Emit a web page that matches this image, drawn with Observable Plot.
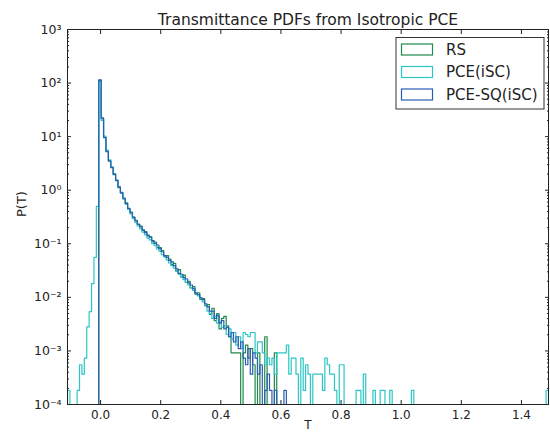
<!DOCTYPE html>
<html><head><meta charset="utf-8">
<script src="https://cdn.jsdelivr.net/npm/d3@7"></script>
<script src="https://cdn.jsdelivr.net/npm/@observablehq/plot@0.6"></script>
<style>html,body{margin:0;padding:0;background:#fff;}</style>
</head><body><div id="chart"></div>
<script>
const title = "Transmittance PDFs from Isotropic PCE";
const seriesNames = ["RS", "PCE(iSC)", "PCE-SQ(iSC)"];
const seriesColors = ["#1f8a4c", "#2cc6c6", "#2a5db5"];
const binStart = -0.11, binWidth = 0.008, binCount = 200;
const headStartBin = 13;
const countUnit = 0.000184;

// RS
const rsHead = [112, 21.5, 9.8, 5.4, 3.5, 2.7, 1.95, 1.55, 1.12, 0.91, 0.69, 0.58, 0.45, 0.39, 0.31, 0.275, 0.228, 0.214, 0.178, 0.168, 0.140, 0.135, 0.110, 0.108, 0.086, 0.085, 0.075, 0.058, 0.060, 0.052, 0.041, 0.043, 0.031, 0.033, 0.024, 0.026, 0.019, 0.020, 0.0150, 0.0158, 0.0115, 0.0122, 0.0092, 0.0095, 0.0070];
const rsTail = [40, 26, 34, 20, 27, 14, 22, 24, 16, 10, 5, 5, 5, 5, 0, 5, 7, 4, 6, 3, 0, 5, 0, 0, 10, 0, 0, 0, 5];

// PCE-SQ(iSC)
const sqHead = [115, 22.4, 9.55, 5.25, 3.55, 2.63, 2.00, 1.51, 1.15, 0.89, 0.71, 0.56, 0.457, 0.38, 0.316, 0.269, 0.234, 0.209, 0.182, 0.162, 0.145, 0.133, 0.115, 0.102, 0.095, 0.081, 0.071, 0.060, 0.056, 0.049, 0.046, 0.039, 0.034, 0.028, 0.027, 0.0234, 0.022, 0.0186, 0.0170, 0.0145, 0.0120, 0.0112, 0.0098, 0.0091, 0.0076];
const sqTail = [36, 30, 30, 22, 25, 18, 20, 14, 15, 10, 12, 8, 10, 6, 8, 4, 3, 6, 2, 5, 4, 2, 3, 0, 1, 2, 1, 0, 1, 0, 0, 0, 1];

// PCE(iSC)
const pceNeg = [0.000184, 0, 0, 0, 0.000184, 0.000552, 0.000368, 0.000736, 0.0028, 0.0054, 0.018, 0.056, 0.5];
const pceHead = [108, 20, 10.2, 5.6, 3.7, 2.7, 2.05, 1.52, 1.16, 0.88, 0.70, 0.55, 0.44, 0.36, 0.295, 0.25, 0.215, 0.19, 0.165, 0.148, 0.128, 0.118, 0.101, 0.092, 0.080, 0.073, 0.063, 0.057, 0.050, 0.044, 0.039, 0.035, 0.031, 0.027, 0.0245, 0.0215, 0.0190, 0.0170, 0.0150, 0.0135, 0.0120, 0.0106, 0.0095, 0.0082, 0.0072];
const pceTail = [30, 27, 22, 24, 18, 19, 15, 16, 11, 14, 9, 12, 7, 10, 6, 12, 11, 10, 12, 12, 5, 8, 8, 5, 3, 4, 3, 4,
                 2, 5, 5, 5, 5, 7, 2, 4, 4, 2, 0, 4, 1, 3, 2, 0, 2, 2, 2, 2, 1, 4, 3, 2, 2, 1, 0, 3, 3];
const pceFar = [[120, 1], [121, 1], [123, 2], [127, 1], [130, 1], [131, 1], [134, 1], [143, 1], [199, 1]];

const xTicks = [0, 0.2, 0.4, 0.6, 0.8, 1.0, 1.2, 1.4];
const yTicks = [1e-4, 1e-3, 1e-2, 1e-1, 1e0, 1e1, 1e2, 1e3];
const yTickLabels = ["10\u207B\u2074", "10\u207B\u00B3", "10\u207B\u00B2", "10\u207B\u00B9", "10\u2070", "10\u00B9", "10\u00B2", "10\u00B3"];

const floorVal = 1e-7;
function buildBins(neg, head, tail, far) {
  const v = new Array(binCount).fill(0);
  neg.forEach((d, i) => { v[i] = d; });
  head.forEach((d, i) => { v[headStartBin + i] = d; });
  tail.forEach((c, i) => { v[headStartBin + head.length + i] = c * countUnit; });
  far.forEach(([k, c]) => { v[k] = c * countUnit; });
  return v;
}
function stepPoints(v) {
  const pts = [{x: binStart, y: floorVal}];
  v.forEach((d, k) => pts.push({x: binStart + k * binWidth, y: d > 0 ? d : floorVal}));
  const end = binStart + binCount * binWidth;
  pts.push({x: end, y: v[binCount - 1] > 0 ? v[binCount - 1] : floorVal});
  pts.push({x: end, y: floorVal});
  return pts;
}
const rsPts = stepPoints(buildBins([], rsHead, rsTail, []));
const pcePts = stepPoints(buildBins(pceNeg, pceHead, pceTail, pceFar));
const sqPts = stepPoints(buildBins([], sqHead, sqTail, []));

const yMinor = [];
for (let e = -4; e < 3; e++) for (let m = 2; m <= 9; m++) yMinor.push(m * Math.pow(10, e));
const labelMap = new Map(yTicks.map((t, i) => [t, yTickLabels[i]]));

const lineOpts = {x: "x", y: "y", curve: "step-after", clip: true, strokeWidth: 1.2};
const plot = Plot.plot({
  width: 550, height: 434,
  marginLeft: 67, marginRight: 2, marginTop: 29, marginBottom: 30,
  style: {fontFamily: "DejaVu Sans", fontSize: "12px", color: "#222", background: "white", overflow: "visible"},
  x: {domain: [-0.11, 1.49]},
  y: {type: "log", domain: [1e-4, 1e3]},
  marks: [
    Plot.line(rsPts, {...lineOpts, stroke: seriesColors[0]}),
    Plot.line(pcePts, {...lineOpts, stroke: seriesColors[1]}),
    Plot.line(sqPts, {...lineOpts, stroke: seriesColors[2]}),
    Plot.frame({stroke: "#222", strokeWidth: 1}),
    Plot.axisX({anchor: "bottom", ticks: xTicks, tickSize: -4, tickPadding: 10, tickFormat: d3.format(".1f"), label: null, fontSize: 12}),
    Plot.axisX({anchor: "top", ticks: xTicks, tickSize: -4, fill: "none", label: null}),
    Plot.axisY({anchor: "left", ticks: yTicks, tickSize: -4, tickPadding: 10, tickFormat: d => labelMap.get(d), label: null, fontSize: 12.5}),
    Plot.axisY({anchor: "left", ticks: yMinor, tickSize: -2, fill: "none", label: null}),
    Plot.axisY({anchor: "right", ticks: yTicks, tickSize: -4, fill: "none", label: null}),
    Plot.axisY({anchor: "right", ticks: yMinor, tickSize: -2, fill: "none", label: null}),
    Plot.text([title], {frameAnchor: "top", dy: -5, lineAnchor: "bottom", fontSize: 15.5, text: d => d}),
    Plot.text(["P(T)"], {frameAnchor: "left", dx: -46, rotate: -90, fontSize: 13, text: d => d}),
    Plot.text(["T"], {frameAnchor: "bottom", dy: 16, lineAnchor: "top", fontSize: 12, text: d => d})
  ]
});

// legend
const svg = d3.select(plot);
const lg = svg.append("g").attr("font-family", "DejaVu Sans").attr("font-size", 15).attr("text-anchor", "start");
lg.append("rect").attr("x", 396).attr("y", 37.5).attr("width", 148).attr("height", 71.5)
  .attr("fill", "white").attr("stroke", "#333").attr("stroke-width", 1);
seriesNames.forEach((name, i) => {
  const cy = 49.5 + 22.5 * i;
  lg.append("rect").attr("x", 401.5).attr("y", cy - 5.5).attr("width", 31).attr("height", 11)
    .attr("fill", "white").attr("stroke", seriesColors[i]).attr("stroke-width", 1.2);
  lg.append("text").attr("x", 446).attr("y", cy).attr("dy", "0.35em").attr("text-anchor", "start")
    .attr("fill", "#222").text(name);
});
document.getElementById("chart").appendChild(plot);
</script>
</body></html>
